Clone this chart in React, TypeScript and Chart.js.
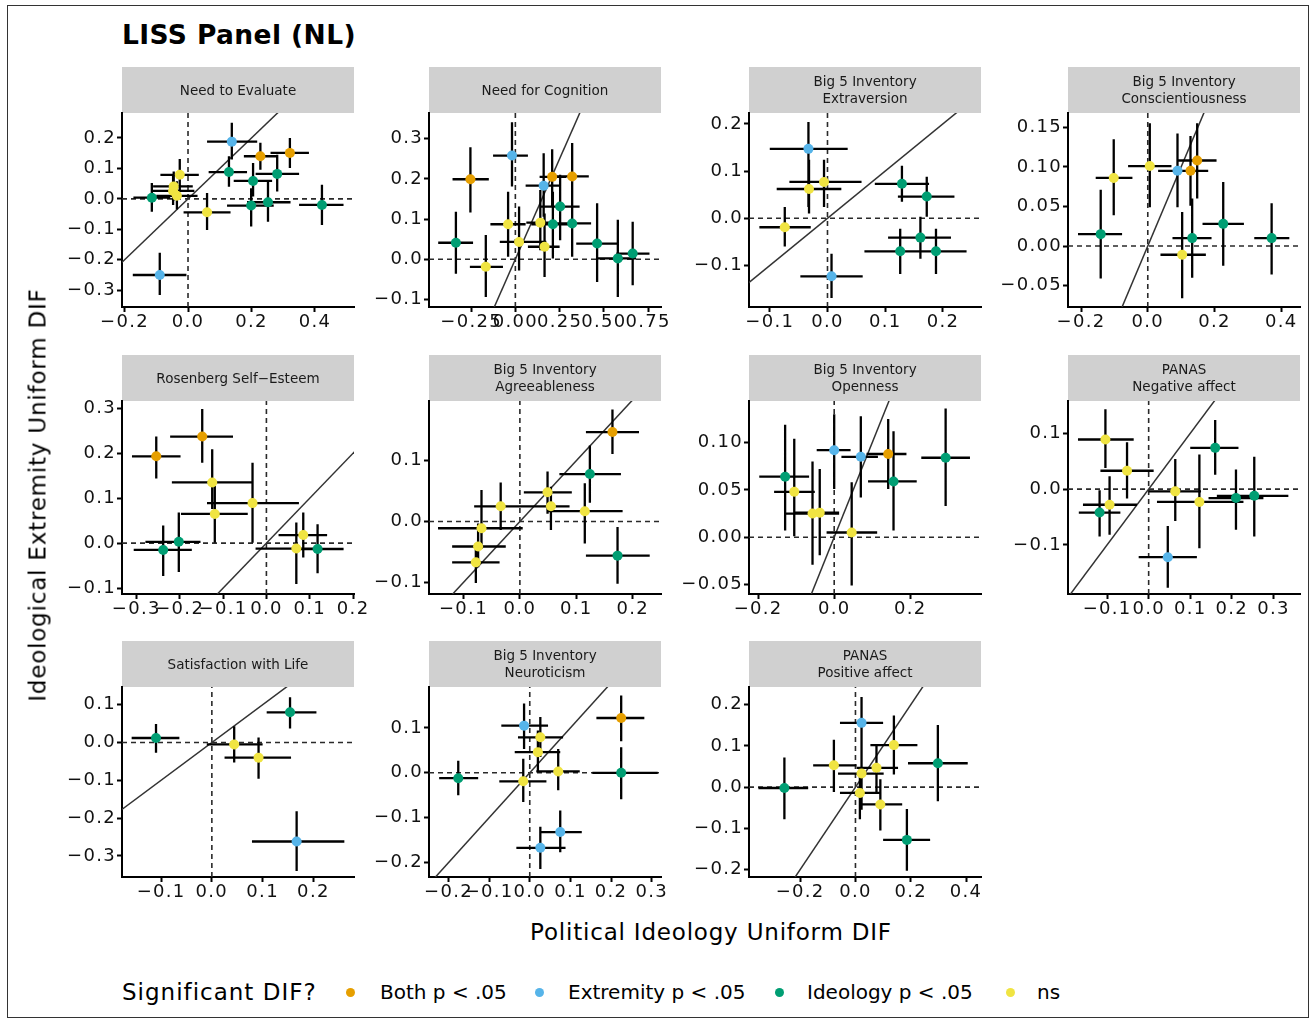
import React, { useEffect, useRef } from "react";
import { Chart, registerables } from "chart.js";
Chart.register(...registerables);

type Row = [number, number, number, number, number, number, string];
// columns: ideology DIF, extremity DIF, ideology lo, ideology hi, extremity lo, extremity hi, significance

const panelTitles: string[][] = [
  ["Need to Evaluate"],
  ["Need for Cognition"],
  ["Big 5 Inventory", "Extraversion"],
  ["Big 5 Inventory", "Conscientiousness"],
  ["Rosenberg Self\u2212Esteem"],
  ["Big 5 Inventory", "Agreeableness"],
  ["Big 5 Inventory", "Openness"],
  ["PANAS", "Negative affect"],
  ["Satisfaction with Life"],
  ["Big 5 Inventory", "Neuroticism"],
  ["PANAS", "Positive affect"],
];

const needToEvaluate: Row[] = [
  [0.138, 0.188, 0.060, 0.218, 0.129, 0.250, "E"],
  [0.228, 0.140, 0.176, 0.281, 0.096, 0.184, "B"],
  [0.321, 0.151, 0.260, 0.381, 0.101, 0.200, "B"],
  [0.129, 0.088, 0.065, 0.186, 0.040, 0.140, "I"],
  [0.205, 0.059, 0.144, 0.265, 0.008, 0.118, "I"],
  [0.281, 0.082, 0.213, 0.350, 0.024, 0.145, "I"],
  [0.199, -0.022, 0.123, 0.270, -0.091, 0.035, "I"],
  [0.252, -0.011, 0.186, 0.323, -0.075, 0.057, "I"],
  [0.422, -0.020, 0.350, 0.490, -0.086, 0.046, "I"],
  [-0.114, 0.004, -0.172, -0.056, -0.042, 0.052, "I"],
  [-0.026, 0.079, -0.087, 0.034, 0.030, 0.131, "N"],
  [-0.045, 0.041, -0.110, 0.015, -0.005, 0.090, "N"],
  [-0.047, 0.026, -0.115, 0.020, -0.020, 0.075, "N"],
  [-0.035, 0.010, -0.100, 0.030, -0.035, 0.058, "N"],
  [0.060, -0.044, -0.014, 0.134, -0.102, 0.019, "N"],
  [-0.089, -0.250, -0.174, -0.005, -0.316, -0.177, "E"],
];

const needForCognition: Row[] = [
  [-0.254, 0.199, -0.355, -0.150, 0.116, 0.279, "B"],
  [-0.019, 0.258, -0.126, 0.071, 0.181, 0.341, "E"],
  [0.160, 0.183, 0.058, 0.259, 0.106, 0.264, "E"],
  [0.208, 0.205, 0.137, 0.287, 0.131, 0.274, "B"],
  [0.321, 0.206, 0.222, 0.415, 0.118, 0.289, "B"],
  [0.253, 0.131, 0.137, 0.363, 0.047, 0.210, "I"],
  [0.212, 0.087, 0.090, 0.306, 0.002, 0.168, "I"],
  [0.321, 0.089, 0.203, 0.428, 0.006, 0.172, "I"],
  [0.141, 0.091, 0.062, 0.222, 0.022, 0.172, "N"],
  [-0.041, 0.087, -0.141, 0.058, 0.006, 0.168, "N"],
  [0.021, 0.043, -0.088, 0.175, -0.028, 0.131, "N"],
  [0.165, 0.031, 0.071, 0.250, -0.044, 0.114, "N"],
  [-0.167, -0.019, -0.257, -0.070, -0.094, 0.060, "N"],
  [-0.336, 0.041, -0.436, -0.239, -0.036, 0.118, "I"],
  [0.462, 0.039, 0.344, 0.579, -0.057, 0.139, "I"],
  [0.579, 0.002, 0.457, 0.682, -0.094, 0.098, "I"],
  [0.663, 0.014, 0.570, 0.758, -0.065, 0.093, "I"],
];

const extraversion: Row[] = [
  [-0.033, 0.147, -0.100, 0.035, 0.024, 0.204, "E"],
  [-0.032, 0.062, -0.088, 0.024, 0.010, 0.124, "N"],
  [-0.006, 0.077, -0.066, 0.059, 0.024, 0.124, "N"],
  [-0.074, -0.019, -0.118, -0.029, -0.060, 0.024, "N"],
  [0.007, -0.123, -0.047, 0.061, -0.169, -0.075, "E"],
  [0.129, 0.073, 0.082, 0.176, 0.035, 0.111, "I"],
  [0.172, 0.046, 0.122, 0.220, 0.003, 0.088, "I"],
  [0.161, -0.041, 0.105, 0.214, -0.086, 0.003, "I"],
  [0.126, -0.070, 0.064, 0.180, -0.118, -0.022, "I"],
  [0.188, -0.070, 0.130, 0.241, -0.118, -0.022, "I"],
];

const conscientiousness: Row[] = [
  [-0.102, 0.086, -0.156, -0.046, 0.039, 0.135, "N"],
  [0.006, 0.101, -0.059, 0.071, 0.049, 0.155, "N"],
  [0.089, 0.095, 0.031, 0.141, 0.049, 0.142, "E"],
  [0.128, 0.095, 0.081, 0.181, 0.051, 0.139, "B"],
  [0.148, 0.108, 0.091, 0.206, 0.060, 0.155, "B"],
  [-0.141, 0.015, -0.209, -0.077, -0.041, 0.071, "I"],
  [0.133, 0.010, 0.074, 0.191, -0.040, 0.060, "I"],
  [0.103, -0.011, 0.038, 0.174, -0.066, 0.043, "N"],
  [0.226, 0.028, 0.164, 0.288, -0.025, 0.081, "I"],
  [0.371, 0.010, 0.319, 0.424, -0.036, 0.054, "I"],
];

const rosenberg: Row[] = [
  [-0.254, 0.193, -0.310, -0.198, 0.144, 0.237, "B"],
  [-0.148, 0.237, -0.222, -0.077, 0.179, 0.298, "B"],
  [-0.125, 0.135, -0.218, -0.033, 0.076, 0.209, "N"],
  [-0.032, 0.089, -0.137, 0.075, 0.001, 0.179, "N"],
  [-0.119, 0.065, -0.197, -0.043, 0.001, 0.127, "N"],
  [-0.202, 0.003, -0.279, -0.152, -0.064, 0.068, "I"],
  [-0.238, -0.015, -0.306, -0.172, -0.073, 0.039, "I"],
  [0.085, 0.018, 0.028, 0.140, -0.032, 0.068, "N"],
  [0.069, -0.012, -0.025, 0.125, -0.091, 0.046, "N"],
  [0.118, -0.013, 0.078, 0.178, -0.067, 0.042, "I"],
];

const agreeableness: Row[] = [
  [0.164, 0.147, 0.117, 0.211, 0.111, 0.184, "B"],
  [0.124, 0.078, 0.070, 0.179, 0.031, 0.125, "I"],
  [0.049, 0.048, 0.007, 0.092, 0.013, 0.082, "N"],
  [-0.034, 0.025, -0.081, 0.045, -0.014, 0.064, "N"],
  [0.055, 0.025, 0.015, 0.088, -0.014, 0.057, "N"],
  [0.115, 0.017, 0.049, 0.182, -0.036, 0.063, "N"],
  [-0.068, -0.011, -0.145, 0.005, -0.045, 0.052, "N"],
  [-0.074, -0.041, -0.120, -0.025, -0.075, -0.003, "N"],
  [-0.078, -0.067, -0.120, -0.036, -0.101, -0.036, "N"],
  [0.173, -0.056, 0.117, 0.230, -0.102, -0.009, "I"],
];

const openness: Row[] = [
  [-0.129, 0.064, -0.197, -0.066, 0.007, 0.119, "I"],
  [-0.105, 0.048, -0.158, -0.051, 0.001, 0.104, "N"],
  [-0.057, 0.025, -0.127, 0.013, -0.029, 0.080, "N"],
  [-0.038, 0.026, -0.103, 0.013, -0.019, 0.072, "N"],
  [0.000, 0.092, -0.046, 0.043, 0.051, 0.130, "E"],
  [0.070, 0.085, 0.019, 0.115, 0.042, 0.128, "E"],
  [0.142, 0.088, 0.085, 0.190, 0.051, 0.125, "B"],
  [0.156, 0.059, 0.089, 0.217, 0.007, 0.112, "I"],
  [0.293, 0.084, 0.229, 0.357, 0.033, 0.136, "I"],
  [0.046, 0.005, -0.020, 0.113, -0.051, 0.058, "N"],
];

const negativeAffect: Row[] = [
  [-0.104, 0.089, -0.170, -0.036, 0.038, 0.143, "N"],
  [-0.052, 0.033, -0.116, 0.012, -0.017, 0.084, "N"],
  [-0.094, -0.028, -0.158, -0.028, -0.082, 0.023, "N"],
  [-0.118, -0.042, -0.168, -0.068, -0.085, -0.002, "I"],
  [0.064, -0.004, 0.000, 0.126, -0.057, 0.054, "N"],
  [0.122, -0.023, 0.020, 0.228, -0.106, 0.062, "N"],
  [0.160, 0.074, 0.100, 0.216, 0.026, 0.124, "I"],
  [0.210, -0.016, 0.144, 0.276, -0.073, 0.035, "I"],
  [0.254, -0.012, 0.164, 0.336, -0.085, 0.058, "I"],
  [0.046, -0.122, -0.024, 0.116, -0.177, -0.066, "E"],
];

const satisfactionWithLife: Row[] = [
  [-0.110, 0.012, -0.158, -0.064, -0.027, 0.049, "I"],
  [0.154, 0.080, 0.108, 0.206, 0.037, 0.120, "I"],
  [0.044, -0.005, -0.010, 0.100, -0.053, 0.043, "N"],
  [0.092, -0.040, 0.025, 0.156, -0.096, 0.013, "N"],
  [0.167, -0.262, 0.079, 0.261, -0.340, -0.182, "E"],
];

const neuroticism: Row[] = [
  [-0.014, 0.105, -0.070, 0.045, 0.053, 0.154, "E"],
  [0.026, 0.079, -0.029, 0.082, 0.035, 0.124, "N"],
  [0.020, 0.046, -0.037, 0.075, 0.001, 0.094, "N"],
  [0.070, 0.003, 0.016, 0.123, -0.039, 0.053, "N"],
  [-0.016, -0.019, -0.075, 0.041, -0.065, 0.031, "N"],
  [0.225, 0.122, 0.164, 0.282, 0.070, 0.172, "B"],
  [0.225, 0.000, 0.154, 0.315, -0.059, 0.057, "I"],
  [-0.176, -0.012, -0.223, -0.127, -0.050, 0.027, "I"],
  [0.075, -0.132, 0.025, 0.128, -0.177, -0.084, "E"],
  [0.026, -0.167, -0.033, 0.088, -0.214, -0.120, "E"],
];

const positiveAffect: Row[] = [
  [0.022, 0.156, -0.056, 0.100, 0.088, 0.219, "E"],
  [0.139, 0.102, 0.054, 0.224, 0.031, 0.174, "N"],
  [-0.078, 0.053, -0.153, 0.004, -0.012, 0.115, "N"],
  [0.076, 0.047, 0.004, 0.154, -0.014, 0.100, "N"],
  [0.022, 0.033, -0.063, 0.102, -0.055, 0.088, "N"],
  [0.016, -0.014, -0.056, 0.088, -0.078, 0.047, "N"],
  [0.090, -0.042, 0.016, 0.169, -0.105, 0.019, "N"],
  [-0.257, -0.002, -0.351, -0.171, -0.078, 0.072, "I"],
  [0.298, 0.058, 0.190, 0.406, -0.034, 0.151, "I"],
  [0.186, -0.128, 0.100, 0.270, -0.203, -0.053, "I"],
];

const panelData: Row[][] = [
  needToEvaluate, needForCognition, extraversion, conscientiousness,
  rosenberg, agreeableness, openness, negativeAffect,
  satisfactionWithLife, neuroticism, positiveAffect,
];

const xLimits: number[][] = [
  [-0.208, 0.523], [-0.488, 0.823], [-0.136, 0.266], [-0.239, 0.456],
  [-0.333, 0.202], [-0.161, 0.25], [-0.224, 0.386], [-0.194, 0.364],
  [-0.177, 0.28], [-0.248, 0.323], [-0.385, 0.454],
];
const yLimits: number[][] = [
  [-0.355, 0.282], [-0.119, 0.364], [-0.188, 0.223], [-0.077, 0.168],
  [-0.113, 0.316], [-0.119, 0.198], [-0.06, 0.144], [-0.188, 0.158],
  [-0.356, 0.147], [-0.232, 0.191], [-0.218, 0.243],
];
const xTicks: number[][] = [
  [-0.2, 0, 0.2, 0.4], [-0.25, 0, 0.25, 0.5, 0.75], [-0.1, 0, 0.1, 0.2], [-0.2, 0, 0.2, 0.4],
  [-0.3, -0.2, -0.1, 0, 0.1, 0.2], [-0.1, 0, 0.1, 0.2], [-0.2, 0, 0.2], [-0.1, 0, 0.1, 0.2, 0.3],
  [-0.1, 0, 0.1, 0.2], [-0.2, -0.1, 0, 0.1, 0.2, 0.3], [-0.2, 0, 0.2, 0.4],
];
const yTicks: number[][] = [
  [-0.3, -0.2, -0.1, 0, 0.1, 0.2], [-0.1, 0, 0.1, 0.2, 0.3], [-0.1, 0, 0.1, 0.2], [-0.05, 0, 0.05, 0.1, 0.15],
  [-0.1, 0, 0.1, 0.2, 0.3], [-0.1, 0, 0.1], [-0.05, 0, 0.05, 0.1], [-0.1, 0, 0.1],
  [-0.3, -0.2, -0.1, 0, 0.1], [-0.2, -0.1, 0, 0.1], [-0.2, -0.1, 0, 0.1, 0.2],
];
const xDigits = [1, 2, 1, 1, 1, 1, 1, 1, 1, 1, 1];
const yDigits = [1, 1, 1, 2, 1, 1, 2, 1, 1, 1, 1];

const sigKeys = ["B", "E", "I", "N"];
const sigLabels = ["Both p < .05", "Extremity p < .05", "Ideology p < .05", "ns"];
const sigColors = ["#E69F00", "#56B4E9", "#009E73", "#F0E442"];

// layout
const colLeft = [122, 429, 749, 1068];
const rowTop = [67, 355, 641];
const rowPlotH = [194, 193, 190];
const plotW = 232;
const headerH = 46;
const yAxisW = 75;
const xAxisH = 40;
const padRight = 25;
const FONT = "'DejaVu Sans', sans-serif";
const TICK_SPACING = "1.3px";

const fmt = (v: number, d: number) => (v < -1e-9 ? "\u2212" : "") + Math.abs(v).toFixed(d);

const decorPlugin = {
  id: "panelDecor",
  beforeUpdate(chart: any) {
    chart.ctx.letterSpacing = TICK_SPACING;
  },
  beforeDraw(chart: any) {
    const ctx = chart.ctx;
    const a = chart.chartArea;
    const lines: string[] = chart.options.plugins.panelDecor.title;
    ctx.save();
    ctx.letterSpacing = "0px";
    ctx.fillStyle = "#D0D0D0";
    ctx.fillRect(a.left, 0, a.right - a.left, headerH);
    ctx.fillStyle = "#1A1A1A";
    ctx.font = `13.5px ${FONT}`;
    ctx.textAlign = "center";
    ctx.textBaseline = "middle";
    const cx = (a.left + a.right) / 2;
    if (lines.length === 1) {
      ctx.fillText(lines[0], cx, 24);
    } else {
      ctx.fillText(lines[0], cx, 15.5);
      ctx.fillText(lines[1], cx, 32);
    }
    ctx.restore();
  },
  beforeDatasetsDraw(chart: any) {
    const ctx = chart.ctx;
    const a = chart.chartArea;
    const xs = chart.scales.x;
    const ys = chart.scales.y;
    ctx.save();
    ctx.beginPath();
    ctx.rect(a.left, a.top, a.right - a.left, a.bottom - a.top);
    ctx.clip();
    // zero reference lines
    ctx.strokeStyle = "#2A2A2A";
    ctx.lineWidth = 1.6;
    ctx.setLineDash([5, 4]);
    const x0 = xs.getPixelForValue(0);
    const y0 = ys.getPixelForValue(0);
    ctx.beginPath();
    ctx.moveTo(a.left, y0);
    ctx.lineTo(a.right, y0);
    ctx.moveTo(x0, a.bottom);
    ctx.lineTo(x0, a.top);
    ctx.stroke();
    // identity line
    ctx.setLineDash([]);
    ctx.lineWidth = 1.5;
    ctx.strokeStyle = "#333333";
    const lo = Math.min(xs.min, ys.min);
    const hi = Math.max(xs.max, ys.max);
    ctx.beginPath();
    ctx.moveTo(xs.getPixelForValue(lo), ys.getPixelForValue(lo));
    ctx.lineTo(xs.getPixelForValue(hi), ys.getPixelForValue(hi));
    ctx.stroke();
    // error bars
    ctx.strokeStyle = "#000000";
    ctx.lineWidth = 2.3;
    ctx.beginPath();
    chart.data.datasets.forEach((ds: any) => {
      ds.data.forEach((p: any) => {
        const px = xs.getPixelForValue(p.x);
        const py = ys.getPixelForValue(p.y);
        ctx.moveTo(xs.getPixelForValue(p.xLo), py);
        ctx.lineTo(xs.getPixelForValue(p.xHi), py);
        ctx.moveTo(px, ys.getPixelForValue(p.yLo));
        ctx.lineTo(px, ys.getPixelForValue(p.yHi));
      });
    });
    ctx.stroke();
    ctx.restore();
  },
};

function Panel({ index }: { index: number }) {
  const ref = useRef<HTMLCanvasElement>(null);
  const col = index % 4;
  const row = Math.floor(index / 4);
  const plotH = rowPlotH[row];
  const W = yAxisW + plotW + padRight;
  const H = headerH + plotH + xAxisH;

  useEffect(() => {
    if (!ref.current) return;
    const rows = panelData[index];
    const datasets = sigKeys.map((k, ki) => ({
      label: sigLabels[ki],
      data: rows
        .filter((r) => r[6] === k)
        .map((r) => ({ x: r[0], y: r[1], xLo: r[2], xHi: r[3], yLo: r[4], yHi: r[5] })),
      backgroundColor: sigColors[ki],
      borderWidth: 0,
      pointRadius: 5,
      pointHoverRadius: 5,
    }));
    const tickFont = { family: FONT, size: 18 };
    const chart = new Chart(ref.current, {
      type: "scatter",
      data: { datasets },
      plugins: [decorPlugin],
      options: {
        animation: false,
        responsive: false,
        devicePixelRatio: 1,
        events: [],
        layout: { padding: { top: headerH, left: 0, right: padRight, bottom: 0 } },
        plugins: {
          legend: { display: false },
          tooltip: { enabled: false },
          title: { display: false },
          panelDecor: { title: panelTitles[index] },
        } as any,
        scales: {
          x: {
            type: "linear",
            min: xLimits[index][0],
            max: xLimits[index][1],
            afterBuildTicks: (s: any) => {
              s.ticks = xTicks[index].map((v) => ({ value: v }));
            },
            afterFit: (s: any) => {
              s.height = xAxisH;
            },
            grid: { drawOnChartArea: false, drawTicks: true, tickLength: 5, tickColor: "#000", tickWidth: 2 },
            border: { display: true, color: "#000", width: 2 },
            ticks: {
              font: tickFont,
              color: "#111",
              padding: 0,
              autoSkip: false,
              maxRotation: 0,
              minRotation: 0,
              callback: (v: any) => fmt(Number(v), xDigits[index]),
            },
          },
          y: {
            type: "linear",
            min: yLimits[index][0],
            max: yLimits[index][1],
            afterBuildTicks: (s: any) => {
              s.ticks = yTicks[index].map((v) => ({ value: v }));
            },
            afterFit: (s: any) => {
              s.width = yAxisW;
            },
            grid: { drawOnChartArea: false, drawTicks: true, tickLength: 5, tickColor: "#000", tickWidth: 2 },
            border: { display: true, color: "#000", width: 2 },
            ticks: {
              font: tickFont,
              color: "#111",
              padding: 1,
              autoSkip: false,
              callback: (v: any) => fmt(Number(v), yDigits[index]),
            },
          },
        },
      } as any,
    });
    return () => chart.destroy();
  }, [index]);

  return (
    <canvas
      ref={ref}
      width={W}
      height={H}
      style={{ position: "absolute", left: colLeft[col] - yAxisW, top: rowTop[row], width: W, height: H }}
    />
  );
}

const legendDotX = [350, 539, 779, 1010];
const legendTextX = [380, 568, 807, 1037];

export default function App() {
  return (
    <div
      style={{
        position: "absolute",
        left: 0,
        top: 0,
        width: 1316,
        height: 1021,
        background: "#fff",
        overflow: "hidden",
        fontFamily: FONT,
        color: "#000",
      }}
    >
      <div
        style={{
          position: "absolute",
          left: 7,
          top: 5,
          width: 1302,
          height: 1013,
          border: "1.5px solid #333",
          boxSizing: "border-box",
        }}
      />
      <div
        style={{
          position: "absolute",
          left: 122,
          top: 22,
          fontWeight: "bold",
          fontSize: 26.5,
          letterSpacing: 0.4,
          lineHeight: 1,
          whiteSpace: "nowrap",
        }}
      >
        LISS Panel (NL)
      </div>
      {panelData.map((_, i) => (
        <Panel key={i} index={i} />
      ))}
      <div
        style={{
          position: "absolute",
          left: 711,
          top: 932,
          transform: "translate(-50%, -50%)",
          fontSize: 23,
          letterSpacing: 0.8,
          lineHeight: 1,
          whiteSpace: "nowrap",
        }}
      >
        Political Ideology Uniform DIF
      </div>
      <div
        style={{
          position: "absolute",
          left: 38,
          top: 495,
          transform: "translate(-50%, -50%) rotate(-90deg)",
          fontSize: 23,
          letterSpacing: 0.8,
          lineHeight: 1,
          whiteSpace: "nowrap",
        }}
      >
        Ideological Extremity Uniform DIF
      </div>
      <div
        style={{
          position: "absolute",
          left: 122,
          top: 992,
          transform: "translateY(-50%)",
          fontSize: 23,
          letterSpacing: 1,
          lineHeight: 1,
          whiteSpace: "nowrap",
        }}
      >
        Significant DIF?
      </div>
      {sigLabels.map((lab, i) => (
        <React.Fragment key={lab}>
          <div
            style={{
              position: "absolute",
              left: legendDotX[i] - 4.5,
              top: 992 - 4.5,
              width: 9,
              height: 9,
              borderRadius: "50%",
              background: sigColors[i],
            }}
          />
          <div
            style={{
              position: "absolute",
              left: legendTextX[i],
              top: 992,
              transform: "translateY(-50%)",
              fontSize: 20,
              lineHeight: 1,
              whiteSpace: "nowrap",
            }}
          >
            {lab}
          </div>
        </React.Fragment>
      ))}
    </div>
  );
}
